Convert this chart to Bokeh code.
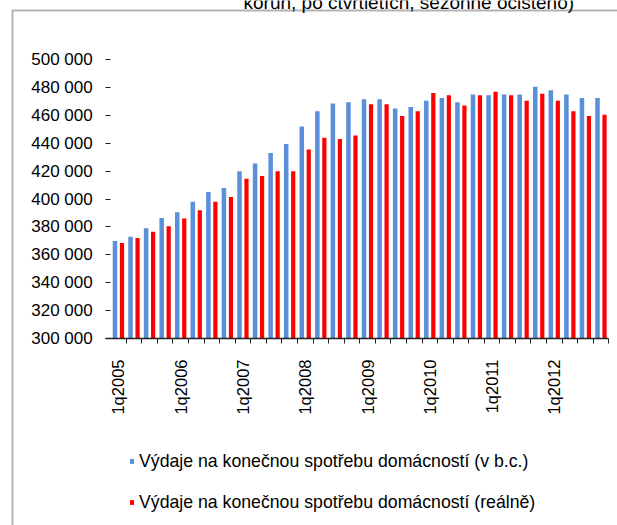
import math
from bokeh.plotting import figure
from bokeh.models import (FixedTicker, Range1d, Legend, LegendItem, Label,
                          BoxAnnotation, ColumnDataSource, LinearAxis)
from bokeh.embed import file_html
from bokeh.resources import INLINE

# ---- data ----
quarters = [f"{q}q{y}" for y in range(2005, 2013) for q in range(1, 5)]
nominal = [370000, 373000, 379000, 386500, 390500, 398000, 405000, 408000,
           420000, 425500, 433000, 439500, 452000, 463000, 468500, 469500,
           471500, 471500, 465000, 466000, 470500, 472500, 469500, 475000,
           474500, 475000, 475000, 480500, 478000, 475000, 472500, 472500]
real = [368500, 372000, 376500, 380500, 386000, 392000, 398000, 401500,
        414500, 416500, 420000, 420000, 435500, 444000, 443000, 445500,
        468000, 468000, 459500, 463000, 476000, 474500, 467000, 474500,
        477000, 474500, 470500, 475500, 470500, 463000, 459500, 460500]
series_names = ["Výdaje na konečnou spotřebu domácností (v b.c.)",
                "Výdaje na konečnou spotřebu domácností (reálně)"]
y_ticks = [300000, 320000, 340000, 360000, 380000, 400000,
           420000, 440000, 460000, 480000, 500000]
y_tick_labels = ["300 000", "320 000", "340 000", "360 000", "380 000", "400 000",
                 "420 000", "440 000", "460 000", "480 000", "500 000"]
title_text = "korun, po čtvrtletích, sezónně očištěno)"

FONT = "Liberation Sans"
BLUE = "#5A8FDA"
RED = "#FF0000"
W, H = 617, 525

# pixel layout of the plot area inside the canvas
PL, PR, PT, PB = 110.2, 608.3, 59.1, 338.0
n = len(quarters)
cat_px = (PR - PL) / n
ypx = (y_ticks[-1] - y_ticks[0]) / (PB - PT)
x_start = -0.5 - PL / cat_px
x_end = -0.5 + (W - PL) / cat_px
y_end = y_ticks[-1] + PT * ypx
y_start = y_ticks[0] - (H - PB) * ypx

idx = list(range(n))
src = ColumnDataSource(dict(
    xb=[i - 0.225 for i in idx],
    xr=[i + 0.225 for i in idx],
    nominal=nominal, real=real, q=quarters))

p = figure(width=W, height=H, output_backend="svg", toolbar_location=None,
           title=None, x_range=Range1d(x_start, x_end),
           y_range=Range1d(y_start, y_end),
           x_axis_type=None, y_axis_type=None,
           min_border=0, min_border_left=0, min_border_right=0,
           min_border_top=0, min_border_bottom=0)
p.outline_line_color = None
p.background_fill_color = "white"
p.border_fill_color = "white"

r1 = p.vbar(x="xb", top="nominal", bottom=y_ticks[0], width=0.29, source=src,
            fill_color=BLUE, line_color=None)
r2 = p.vbar(x="xr", top="real", bottom=y_ticks[0], width=0.27, source=src,
            fill_color=RED, line_color=None)

# y axis
ya = LinearAxis(fixed_location=-0.5, bounds=(y_ticks[0], y_ticks[-1]))
ya.ticker = FixedTicker(ticks=y_ticks)
ya.major_label_overrides = {t: l for t, l in zip(y_ticks, y_tick_labels)}
ya.axis_line_color = None
ya.major_tick_in = 0
ya.major_tick_out = 5
ya.major_tick_line_color = "#222222"
ya.minor_tick_line_color = None
ya.major_label_standoff = 13
ya.major_label_text_font = FONT
ya.major_label_text_font_size = "17px"
ya.major_label_text_color = "#000000"
p.add_layout(ya, "left")

# x axis
label_pos = [i for i, q in zip(idx, quarters) if q.startswith("1q")]
xa = LinearAxis(fixed_location=y_ticks[0], bounds=(-0.83, n - 0.5))
xa.ticker = FixedTicker(ticks=label_pos, minor_ticks=[i + 0.5 for i in idx])
xa.major_label_overrides = {i: quarters[i] for i in label_pos}
xa.axis_line_color = "#222222"
xa.axis_line_width = 1.5
xa.major_tick_line_color = None
xa.major_tick_in = 0
xa.major_tick_out = 0
xa.minor_tick_in = 0
xa.minor_tick_out = 5
xa.minor_tick_line_color = "#222222"
xa.major_label_orientation = math.pi / 2
xa.major_label_standoff = 16
xa.major_label_text_font = FONT
xa.major_label_text_font_size = "16.5px"
xa.major_label_text_color = "#000000"
p.add_layout(xa, "below")

legend = Legend(items=[LegendItem(label=series_names[0], renderers=[r1]),
                       LegendItem(label=series_names[1], renderers=[r2])],
                location=(129, 12.5), orientation="vertical",
                border_line_color=None, background_fill_alpha=0,
                padding=0, margin=0, spacing=20, label_standoff=5,
                glyph_width=5, glyph_height=6, label_height=21,
                label_text_font=FONT, label_text_font_size="17.7px",
                label_text_color="#000000")
p.add_layout(legend)

# chart border (top and left)
p.add_layout(BoxAnnotation(left=12, right=W + 50, top=H - 10, bottom=-50,
                           left_units="screen", right_units="screen",
                           top_units="screen", bottom_units="screen",
                           fill_alpha=0, line_color="#000000", line_width=2,
                           level="annotation"))

p.add_layout(Label(x=243, y=H - 1.5, x_units="screen", y_units="screen",
                   text=title_text, text_font=FONT, text_font_size="19px",
                   text_color="#000000", text_baseline="alphabetic"))

open("out.html", "w").write(file_html(p, INLINE))
